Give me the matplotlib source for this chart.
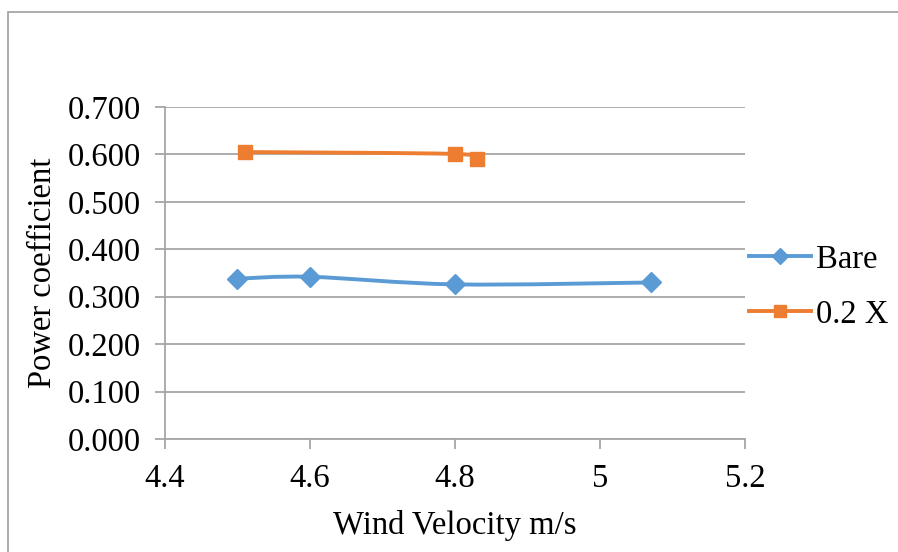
import numpy as np
import matplotlib
matplotlib.use("Agg")
import matplotlib.pyplot as plt
from matplotlib.path import Path
from matplotlib.patches import PathPatch, Rectangle
from matplotlib.lines import Line2D

plt.rcParams.update({
    "font.family": ["Liberation Serif", "DejaVu Serif"],
    "font.size": 23.5,
})

# data
bare_v = [4.50, 4.60, 4.80, 5.07]
bare_cp = [0.338, 0.342, 0.326, 0.330]
x02_v = [4.51, 4.80, 4.83]
x02_cp = [0.605, 0.601, 0.590]

BLUE = "#5B9BD5"
ORANGE = "#ED7D31"
GRID = "#A6A6A6"


def smooth_path(x, y, tension=1 / 6):
    # Excel-style smoothed line as cubic bezier segments (Catmull-Rom controls)
    x = np.asarray(x, float)
    y = np.asarray(y, float)
    verts = [(x[0], y[0])]
    codes = [Path.MOVETO]
    n = len(x)
    for i in range(n - 1):
        i0 = max(i - 1, 0)
        i3 = min(i + 2, n - 1)
        c1 = (x[i] + (x[i + 1] - x[i0]) * tension, y[i] + (y[i + 1] - y[i0]) * tension)
        c2 = (x[i + 1] - (x[i3] - x[i]) * tension, y[i + 1] - (y[i3] - y[i]) * tension)
        verts += [c1, c2, (x[i + 1], y[i + 1])]
        codes += [Path.CURVE4] * 3
    return Path(verts, codes)


fig = plt.figure(figsize=(8.98, 5.52), dpi=100)
ax = fig.add_axes([165 / 898, 1 - 439 / 552, 580 / 898, 332 / 552])

# outer chart border (cropped at right/bottom like the original)
fig.patches.append(Rectangle((8 / 898, -0.1), 1.2, 1.1 - 11.5 / 552,
                             transform=fig.transFigure, fill=False,
                             edgecolor="#A6A6A6", linewidth=1.3))

for xs, ys, col in [(bare_v, bare_cp, BLUE), (x02_v, x02_cp, ORANGE)]:
    ax.add_patch(PathPatch(smooth_path(xs, ys), facecolor="none", edgecolor=col,
                           linewidth=2.8, capstyle="round", joinstyle="round", zorder=3))

ax.plot(bare_v, bare_cp, linestyle="none", marker="D", markersize=10,
        color=BLUE, zorder=4)
ax.plot(x02_v, x02_cp, linestyle="none", marker="s", markersize=10.5,
        color=ORANGE, zorder=4)

ax.set_xlim(4.4, 5.2)
ax.set_ylim(0, 0.7)
ax.set_xticks([4.4, 4.6, 4.8, 5.0, 5.2])
ax.set_xticklabels(["4.4", "4.6", "4.8", "5", "5.2"])
ax.set_yticks(np.arange(0, 0.71, 0.1))
ax.set_yticklabels([f"{v:.3f}" for v in np.arange(0, 0.71, 0.1)])

ax.grid(axis="y", color=GRID, linewidth=1.3)
ax.set_axisbelow(True)
for s in ["top", "right"]:
    ax.spines[s].set_visible(False)
for s in ["left", "bottom"]:
    ax.spines[s].set_color(GRID)
    ax.spines[s].set_linewidth(1.3)
ax.tick_params(axis="both", direction="out", length=7.5, width=1.3, color=GRID,
               labelcolor="black")
ax.tick_params(axis="y", pad=10)
ax.tick_params(axis="x", pad=10)

ax.set_xlabel("Wind Velocity m/s", labelpad=12)
ax.set_ylabel("Power coefficient", labelpad=7)

handles = [
    Line2D([], [], color=BLUE, linewidth=2.8, marker="D", markersize=8),
    Line2D([], [], color=ORANGE, linewidth=2.8, marker="s", markersize=8.5),
]
fig.legend(handles, ["Bare", "0.2 X"], loc="center left",
           bbox_to_anchor=(749 / 898, 1 - 287 / 552), frameon=False,
           handlelength=1.9, handletextpad=0.15, labelspacing=0.75,
           borderaxespad=0, borderpad=0)

fig.savefig("out.png", dpi=100)
